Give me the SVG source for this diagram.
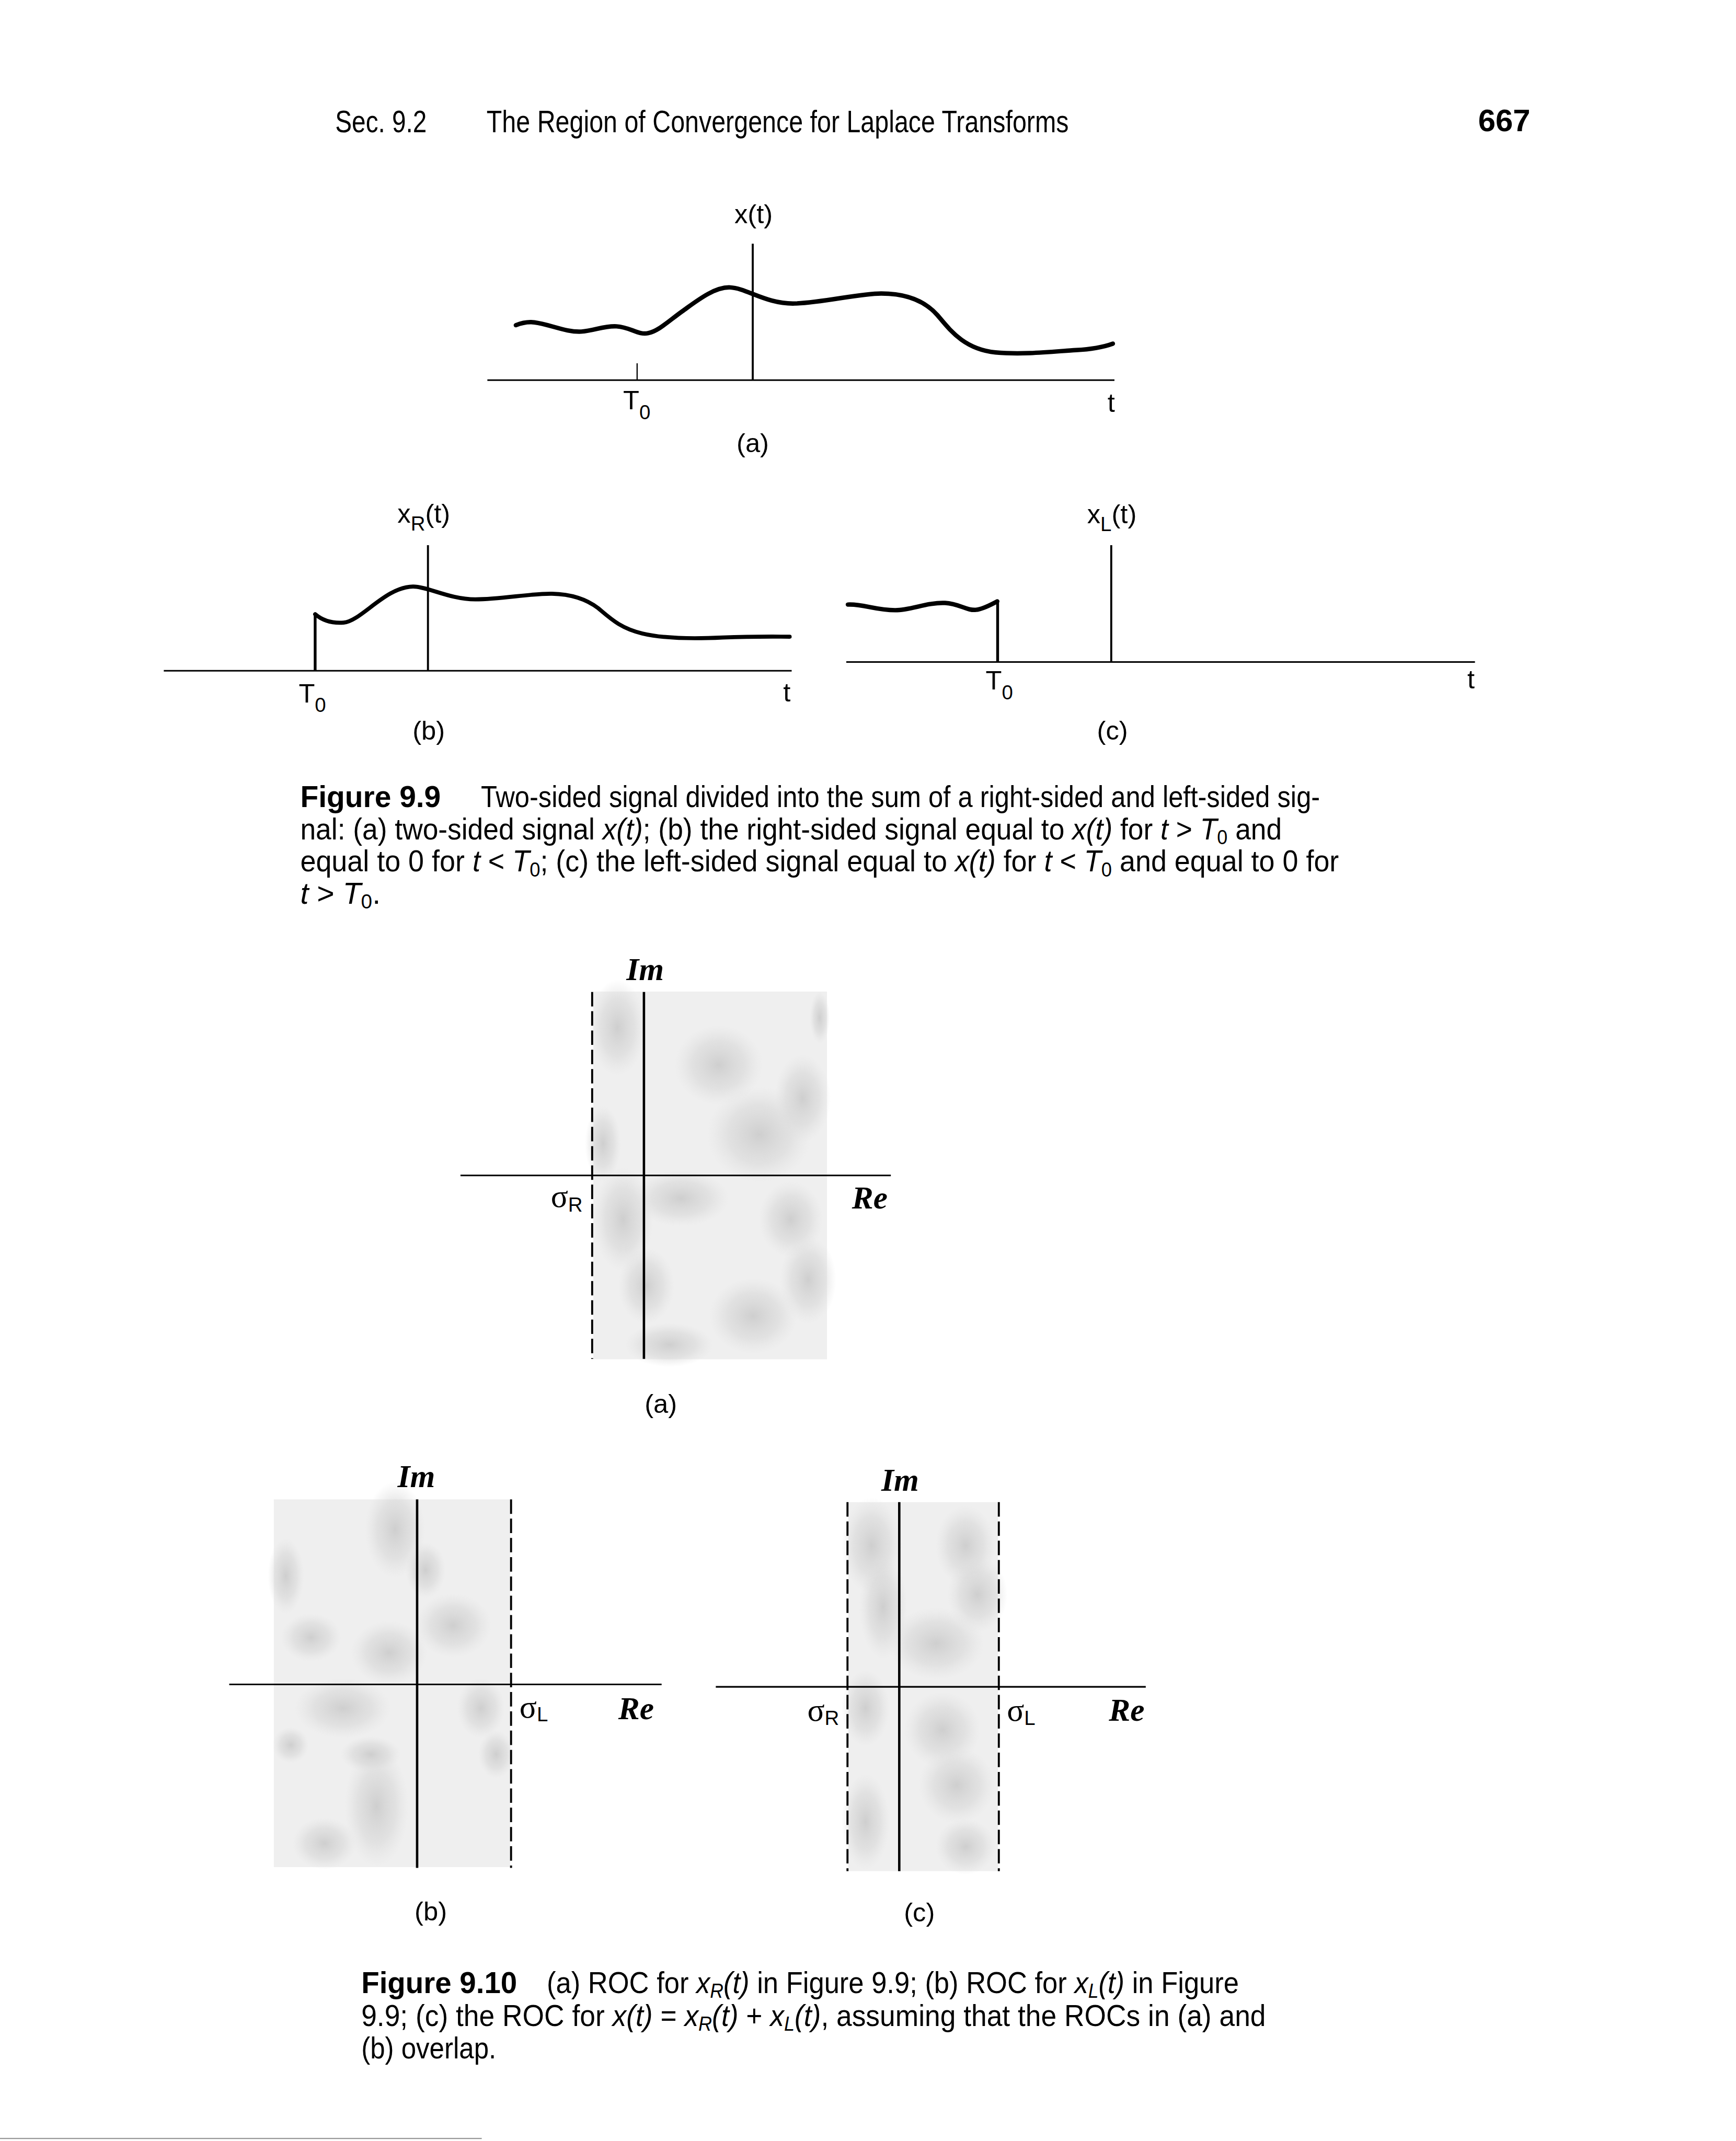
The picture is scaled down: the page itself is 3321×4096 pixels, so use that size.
<svg xmlns="http://www.w3.org/2000/svg" width="3321" height="4096" viewBox="0 0 3321 4096">
<style>
text{fill:#000}
.lbl{font-family:"Liberation Sans",Arial,sans-serif;font-size:66px}
.sub{font-size:50px}
.cap{font-family:"Liberation Sans",Arial,sans-serif;font-size:74px}
.hdr{font-family:"Liberation Sans",Arial,sans-serif;font-size:78px}
.b{font-weight:bold}
.i{font-style:italic}
.scr{font-family:"Liberation Serif","DejaVu Serif",serif;font-style:italic;font-weight:bold;font-size:80px}
.sig{font-family:"Liberation Serif","DejaVu Serif",serif;font-size:80px}
.ax{stroke:#000;fill:none;stroke-width:4}
.vax{stroke:#000;fill:none;stroke-width:5}
.curve{stroke:#000;stroke-width:11;fill:none;stroke-linecap:round;stroke-linejoin:round}
.jump{stroke:#000;stroke-width:7;fill:none}
.dash{stroke:#000;stroke-width:5;stroke-dasharray:36 12;fill:none}
.roc{fill:#efefef}
.blob{fill:url(#blob)}
</style>
<defs>
<radialGradient id="blob">
<stop offset="0" stop-color="#cbcbcb" stop-opacity="0.9"/>
<stop offset="0.6" stop-color="#d6d6d6" stop-opacity="0.55"/>
<stop offset="1" stop-color="#e0e0e0" stop-opacity="0"/>
</radialGradient>
</defs>
<rect width="3321" height="4096" fill="#fff"/>
<g transform="scale(0.768)">
<g id="header">
<text class="hdr" x="835" y="329" textLength="228" lengthAdjust="spacingAndGlyphs">Sec. 9.2</text>
<text class="hdr" x="1212" y="329" textLength="1450" lengthAdjust="spacingAndGlyphs">The Region of Convergence for Laplace Transforms</text>
<text class="hdr b" x="3682" y="327" textLength="130" lengthAdjust="spacingAndGlyphs">667</text>
</g>

<!-- Figure 9.9 (a) -->
<g id="fig99a">
<line class="ax" x1="1214" y1="947" x2="2776" y2="947"/>
<line class="vax" x1="1875" y1="607" x2="1875" y2="947"/>
<line class="ax" x1="1587" y1="905" x2="1587" y2="947" style="stroke-width:3"/>
<path class="curve" d="M1285,810 C1300,804 1315,801 1331,803 C1370,808 1410,828 1448,826 C1480,824 1505,811 1536,813 C1570,815 1590,835 1614,830 C1640,825 1665,800 1700,775 C1735,750 1780,714 1819,716 C1860,718 1910,758 1980,756 C2050,754 2140,731 2195,731 C2250,731 2300,745 2335,785 C2365,820 2400,870 2480,878 C2550,884 2620,876 2680,872 C2720,870 2750,864 2772,856"/>
<text class="lbl" x="1877" y="556" text-anchor="middle">x(t)</text>
<text class="lbl" x="1552" y="1020">T<tspan class="sub" dy="24">0</tspan></text>
<text class="lbl" x="2768" y="1026" text-anchor="middle">t</text>
<text class="lbl" x="1875" y="1126" text-anchor="middle">(a)</text>
</g>

<!-- Figure 9.9 (b) -->
<g id="fig99b">
<line class="ax" x1="408" y1="1671" x2="1972" y2="1671"/>
<line class="vax" x1="1066" y1="1358" x2="1066" y2="1671"/>
<line class="jump" x1="785" y1="1671" x2="785" y2="1530"/>
<path class="curve" style="stroke-width:10" d="M785,1530 C805,1547 830,1553 856,1551 C900,1547 960,1462 1029,1461 C1065,1461 1120,1493 1184,1493 C1250,1493 1320,1478 1375,1479 C1420,1480 1460,1492 1490,1515 C1520,1540 1545,1565 1600,1578 C1650,1590 1720,1592 1800,1588 C1880,1585 1930,1586 1967,1586"/>
<text class="lbl" x="990" y="1302">x<tspan class="sub" dy="19">R</tspan><tspan dy="-19">(t)</tspan></text>
<text class="lbl" x="744" y="1750">T<tspan class="sub" dy="24">0</tspan></text>
<text class="lbl" x="1960" y="1748" text-anchor="middle">t</text>
<text class="lbl" x="1068" y="1842" text-anchor="middle">(b)</text>
</g>

<!-- Figure 9.9 (c) -->
<g id="fig99c">
<line class="ax" x1="2108" y1="1649" x2="3674" y2="1649"/>
<line class="vax" x1="2768" y1="1358" x2="2768" y2="1649"/>
<path class="curve" d="M2112,1506 C2150,1504 2180,1520 2230,1520 C2270,1520 2310,1500 2354,1502 C2390,1504 2410,1522 2431,1519 C2450,1517 2470,1505 2484,1498"/>
<line class="jump" x1="2485" y1="1498" x2="2485" y2="1649"/>
<text class="lbl" x="2708" y="1303">x<tspan class="sub" dy="20">L</tspan><tspan dy="-20">(t)</tspan></text>
<text class="lbl" x="2455" y="1718">T<tspan class="sub" dy="24">0</tspan></text>
<text class="lbl" x="3664" y="1715" text-anchor="middle">t</text>
<text class="lbl" x="2771" y="1842" text-anchor="middle">(c)</text>
</g>

<g id="caption99">
<text class="cap b" x="748" y="2011" textLength="350" lengthAdjust="spacingAndGlyphs">Figure 9.9</text>
<text class="cap" x="1198" y="2011" textLength="2090" lengthAdjust="spacingAndGlyphs">Two-sided signal divided into the sum of a right-sided and left-sided sig-</text>
<text class="cap" x="748" y="2091" textLength="2445" lengthAdjust="spacingAndGlyphs">nal: (a) two-sided signal <tspan class="i">x(t)</tspan>; (b) the right-sided signal equal to <tspan class="i">x(t)</tspan> for <tspan class="i">t</tspan> &gt; <tspan class="i">T</tspan><tspan font-size="50" dy="12">0</tspan><tspan dy="-12"> and</tspan></text>
<text class="cap" x="748" y="2171" textLength="2587" lengthAdjust="spacingAndGlyphs">equal to 0 for <tspan class="i">t</tspan> &lt; <tspan class="i">T</tspan><tspan font-size="50" dy="12">0</tspan><tspan dy="-12">; (c) the left-sided signal equal to </tspan><tspan class="i">x(t)</tspan> for <tspan class="i">t</tspan> &lt; <tspan class="i">T</tspan><tspan font-size="50" dy="12">0</tspan><tspan dy="-12"> and equal to 0 for</tspan></text>
<text class="cap" x="748" y="2251" textLength="200" lengthAdjust="spacingAndGlyphs"><tspan class="i">t</tspan> &gt; <tspan class="i">T</tspan><tspan font-size="50" dy="12">0</tspan><tspan dy="-12">.</tspan></text>
</g>

<!-- Figure 9.10 (a) -->
<g id="roc_a">
<rect class="roc" x="1478" y="2470" width="582" height="916"/>
<ellipse class="blob" cx="1538" cy="2560" rx="70" ry="120"/>
<ellipse class="blob" cx="1790" cy="2653" rx="110" ry="100"/>
<ellipse class="blob" cx="1891" cy="2826" rx="130" ry="120"/>
<ellipse class="blob" cx="1999" cy="2736" rx="70" ry="110"/>
<ellipse class="blob" cx="1552" cy="3037" rx="75" ry="130"/>
<ellipse class="blob" cx="1696" cy="2985" rx="120" ry="70"/>
<ellipse class="blob" cx="1970" cy="3037" rx="80" ry="95"/>
<ellipse class="blob" cx="2013" cy="3188" rx="70" ry="110"/>
<ellipse class="blob" cx="1876" cy="3278" rx="110" ry="95"/>
<ellipse class="blob" cx="1667" cy="3350" rx="110" ry="55"/>
<ellipse class="blob" cx="1610" cy="3203" rx="70" ry="95"/>
<ellipse class="blob" cx="1502" cy="2849" rx="45" ry="95"/>
<ellipse class="blob" cx="2042" cy="2535" rx="25" ry="65"/>
<line class="ax" x1="1147" y1="2928" x2="2219" y2="2928"/>
<line class="vax" x1="1604" y1="2471" x2="1604" y2="3385" style="stroke-width:6"/>
<line class="dash" x1="1475" y1="2471" x2="1475" y2="3385"/>
<text class="scr" x="1607" y="2442" text-anchor="middle">Im</text>
<text class="scr" x="2122" y="3010">Re</text>
<text class="sig" x="1372" y="3007">σ<tspan class="lbl sub" font-size="46" dy="11">R</tspan></text>
<text class="lbl" x="1646" y="3520" text-anchor="middle">(a)</text>
</g>

<!-- Figure 9.10 (b) -->
<g id="roc_b">
<rect class="roc" x="682" y="3735" width="589" height="916"/>
<ellipse class="blob" cx="984" cy="3811" rx="75" ry="120"/>
<ellipse class="blob" cx="1060" cy="3911" rx="50" ry="70"/>
<ellipse class="blob" cx="1129" cy="4049" rx="95" ry="80"/>
<ellipse class="blob" cx="712" cy="3926" rx="45" ry="95"/>
<ellipse class="blob" cx="775" cy="4079" rx="75" ry="60"/>
<ellipse class="blob" cx="969" cy="4117" rx="95" ry="80"/>
<ellipse class="blob" cx="854" cy="4255" rx="120" ry="75"/>
<ellipse class="blob" cx="1198" cy="4255" rx="60" ry="75"/>
<ellipse class="blob" cx="1236" cy="4370" rx="45" ry="60"/>
<ellipse class="blob" cx="938" cy="4500" rx="80" ry="150"/>
<ellipse class="blob" cx="808" cy="4592" rx="80" ry="65"/>
<ellipse class="blob" cx="724" cy="4347" rx="45" ry="45"/>
<ellipse class="blob" cx="923" cy="4370" rx="75" ry="45"/>
<line class="ax" x1="571" y1="4196" x2="1648" y2="4196"/>
<line class="vax" x1="1039" y1="3735" x2="1039" y2="4653" style="stroke-width:6"/>
<line class="dash" x1="1273" y1="3735" x2="1273" y2="4653"/>
<text class="scr" x="1037" y="3704" text-anchor="middle">Im</text>
<text class="sig" x="1294" y="4278">σ<tspan class="lbl sub" font-size="46" dy="10">L</tspan></text>
<text class="scr" x="1540" y="4282">Re</text>
<text class="lbl" x="1073" y="4784" text-anchor="middle">(b)</text>
</g>

<!-- Figure 9.10 (c) -->
<g id="roc_c">
<rect class="roc" x="2113" y="3742" width="373" height="919"/>
<ellipse class="blob" cx="2171" cy="3850" rx="75" ry="120"/>
<ellipse class="blob" cx="2200" cy="4003" rx="60" ry="130"/>
<ellipse class="blob" cx="2405" cy="3850" rx="75" ry="100"/>
<ellipse class="blob" cx="2435" cy="3972" rx="75" ry="95"/>
<ellipse class="blob" cx="2332" cy="4094" rx="120" ry="90"/>
<ellipse class="blob" cx="2156" cy="4255" rx="60" ry="95"/>
<ellipse class="blob" cx="2347" cy="4309" rx="95" ry="95"/>
<ellipse class="blob" cx="2383" cy="4447" rx="95" ry="95"/>
<ellipse class="blob" cx="2156" cy="4538" rx="60" ry="120"/>
<ellipse class="blob" cx="2405" cy="4600" rx="75" ry="70"/>
<line class="ax" x1="1783" y1="4202" x2="2854" y2="4202"/>
<line class="vax" x1="2240" y1="3742" x2="2240" y2="4661" style="stroke-width:6"/>
<line class="dash" x1="2111" y1="3742" x2="2111" y2="4661"/>
<line class="dash" x1="2488" y1="3742" x2="2488" y2="4661"/>
<text class="scr" x="2242" y="3714" text-anchor="middle">Im</text>
<text class="sig" x="2011" y="4286">σ<tspan class="lbl sub" font-size="46" dy="11">R</tspan></text>
<text class="sig" x="2508" y="4286">σ<tspan class="lbl sub" font-size="46" dy="11">L</tspan></text>
<text class="scr" x="2762" y="4286">Re</text>
<text class="lbl" x="2290" y="4786" text-anchor="middle">(c)</text>
</g>

<g id="caption910">
<text class="cap b" x="900" y="4965" textLength="388" lengthAdjust="spacingAndGlyphs">Figure 9.10</text>
<text class="cap" x="1362" y="4965" textLength="1724" lengthAdjust="spacingAndGlyphs">(a) ROC for <tspan class="i">x<tspan font-size="50" dy="12">R</tspan><tspan dy="-12">(t)</tspan></tspan> in Figure 9.9; (b) ROC for <tspan class="i">x<tspan font-size="50" dy="12">L</tspan><tspan dy="-12">(t)</tspan></tspan> in Figure</text>
<text class="cap" x="900" y="5047" textLength="2253" lengthAdjust="spacingAndGlyphs">9.9; (c) the ROC for <tspan class="i">x(t)</tspan> = <tspan class="i">x<tspan font-size="50" dy="12">R</tspan><tspan dy="-12">(t)</tspan></tspan> + <tspan class="i">x<tspan font-size="50" dy="12">L</tspan><tspan dy="-12">(t)</tspan></tspan>, assuming that the ROCs in (a) and</text>
<text class="cap" x="900" y="5127" textLength="336" lengthAdjust="spacingAndGlyphs">(b) overlap.</text>
</g>
<line x1="0" y1="5327" x2="1200" y2="5327" stroke="#999" stroke-width="3"/>
</g>
</svg>
